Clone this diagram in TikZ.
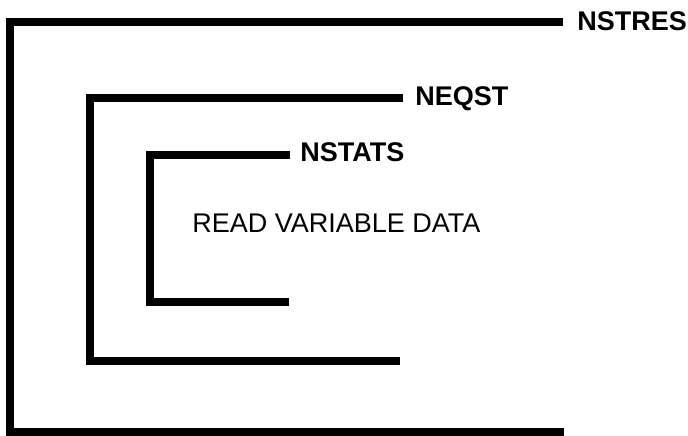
\documentclass[tikz,border=0pt]{standalone}
\usepackage{fontspec}
\setmainfont{Liberation Sans}
\usepackage{tikz}
\usetikzlibrary{calc}
\tikzset{
  loopline/.style={draw=black, line width=5.4pt, line cap=butt, line join=miter},
  loopname/.style={font=\fontsize{19.2}{21}\selectfont\bfseries, inner sep=0pt, anchor=base west},
  body/.style={font=\fontsize{19.2}{21}\selectfont, inner sep=0pt, anchor=base west},
}

\begin{document}
\begin{tikzpicture}[x=0.025cm, y=-0.025cm]
  \useasboundingbox (0,0) rectangle (688,435);
  % loop names
  \node[loopname] (nstres) at (577,30) {NSTRES};
  \node[loopname] (neqst)  at (415,105) {NEQST};
  \node[loopname] (nstats) at (300,161) {NSTATS};
  \node[body]     (read)   at (192,232) {READ VARIABLE DATA};
  % bracket corners and ends
  \coordinate (res-top) at (563,22);
  \coordinate (res-bot) at (10,432);
  \coordinate (res-end) at (564,432);
  \coordinate (eqs-top) at (403,98);
  \coordinate (eqs-bot) at (90,361);
  \coordinate (eqs-end) at (400,361);
  \coordinate (sta-top) at (290,155);
  \coordinate (sta-bot) at (150,302);
  \coordinate (sta-end) at (289,302);
  \draw[loopline] (res-top) -| (res-bot) -- (res-end);
  \draw[loopline] (eqs-top) -| (eqs-bot) -- (eqs-end);
  \draw[loopline] (sta-top) -| (sta-bot) -- (sta-end);
\end{tikzpicture}
\end{document}
